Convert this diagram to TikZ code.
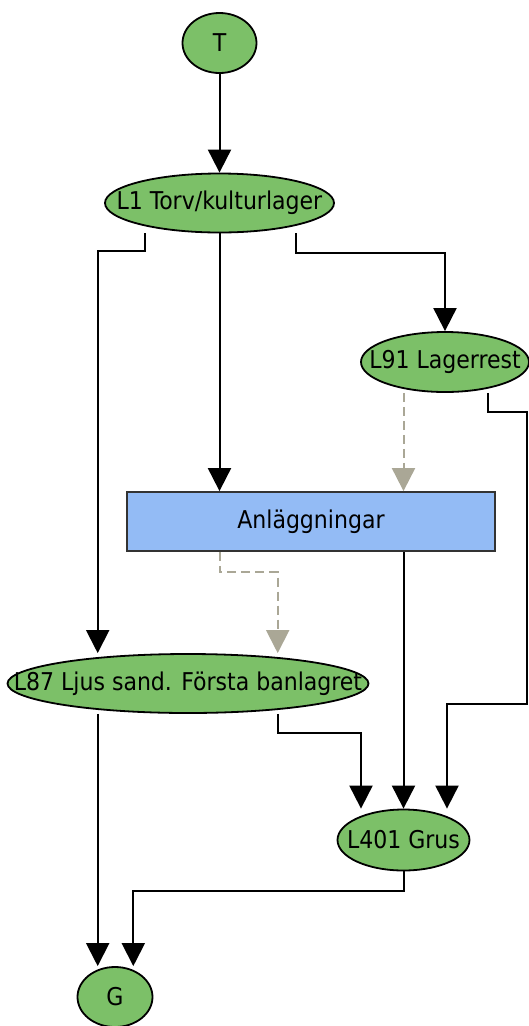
\documentclass[tikz,border=0pt]{standalone}
\usepackage{fontspec}
\setmainfont{DejaVu Sans Condensed}
\usetikzlibrary{shapes.geometric,arrows.meta}
\definecolor{nodegreen}{RGB}{124,192,104}
\definecolor{boxblue}{RGB}{147,187,245}
\definecolor{dashgray}{RGB}{170,167,150}
\begin{document}
\begin{tikzpicture}[x=1pt,y=-1pt,
  lay/.style={ellipse,draw=black,line width=1.8pt,fill=nodegreen,inner sep=0pt,
    label={[font=\fontsize{24.5}{28}\selectfont,inner sep=0pt]center:#1}},
  boxst/.style={rectangle,draw=black!80,line width=1.8pt,fill=boxblue,inner sep=0pt,
    minimum width=368pt,minimum height=59pt,font=\fontsize{24.5}{28}\selectfont},
  arr/.style={draw=black,line width=2pt,-{Triangle[width=23pt,length=23pt]}},
  darr/.style={draw=dashgray,line width=2pt,dash pattern=on 9pt off 5pt,
    -{Triangle[width=23pt,length=23pt,fill=dashgray,sep=0pt]}}
]
\useasboundingbox (0,0) rectangle (529,1026);
\node[lay=T,minimum width=74pt,minimum height=60pt] (T) at (219.5,43) {};
\node[lay={L1 Torv/kulturlager},minimum width=229pt,minimum height=59pt] (L1) at (219.5,203) {};
\node[lay={L91 Lagerrest},minimum width=168pt,minimum height=60pt] (L91) at (445,362) {};
\node[boxst] (B) at (311,521.5) {Anläggningar};
\node[lay={L87 Ljus sand. Första banlagret},minimum width=361pt,minimum height=59pt] (L87) at (188,683.5) {};
\node[lay={L401 Grus},minimum width=132pt,minimum height=61pt] (L401) at (403.5,840) {};
\node[lay=G,minimum width=75pt,minimum height=60pt] (G) at (115,997) {};

\draw[arr] (T.south) -- (L1.north);
\draw[arr] ([xshift=-74.5pt]L1.south) -- ++(0pt,-18pt) -| ([xshift=-90.3pt]L87.north);
\draw[arr] (L1.south) -- (L1.south |- B.north);
\draw[arr] ([xshift=76.5pt]L1.south) -- ++(0pt,-20pt) -| (L91.north);
\draw[darr] ([xshift=-41.5pt]L91.south) -- ([xshift=-41.5pt]L91.south |- B.north);
\draw[arr] ([xshift=43pt]L91.south) |- (527,412) -- (527,703.6) -| ([xshift=43.5pt]L401.north);
\draw[arr] (L401.north |- B.south) -- (L401.north);
\draw[darr] ([xshift=-91.5pt]B.south) -- ++(0pt,-20.3pt) -| ([xshift=89.7pt]L87.north);
\draw[arr] ([xshift=89.7pt]L87.south) -- ++(0pt,-19pt) -| ([xshift=-42.5pt]L401.north);
\draw[arr] ([xshift=-90.3pt]L87.south) -- ([xshift=-17.3pt]G.north);
\draw[arr] (L401.south) -- ++(0pt,-20pt) -| ([xshift=18.3pt]G.north);
\end{tikzpicture}
\end{document}
